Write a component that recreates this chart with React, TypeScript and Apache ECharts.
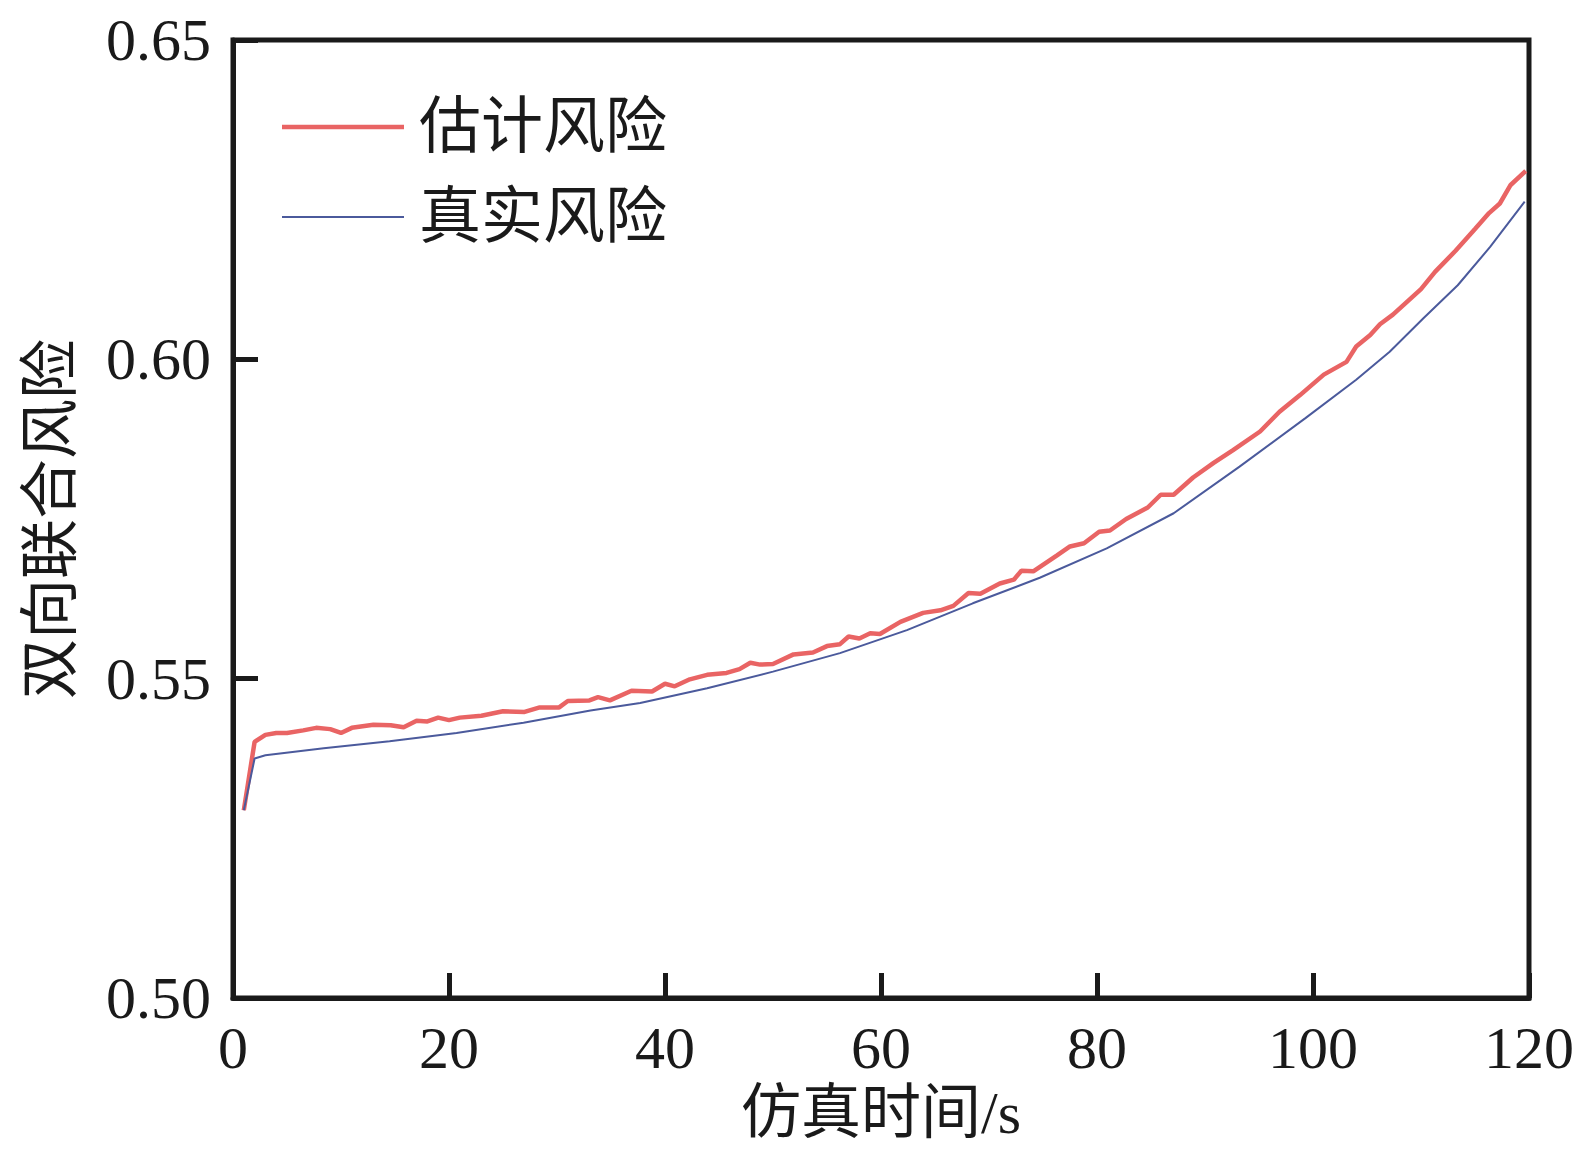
import React, { useEffect, useRef } from "react";
import * as echarts from "echarts";

const seriesNames = ["估计风险", "真实风险"];

// [time (s), risk]
const estimatedRisk: [number, number][] = [
  [1, 0.5294], [2, 0.5401], [3, 0.5412], [4, 0.5415], [5, 0.5415], [6.5, 0.5419],
  [7.7, 0.5423], [9, 0.5421], [10, 0.5415], [11, 0.5423], [13, 0.5428], [14.6, 0.5427],
  [15.8, 0.5424], [17, 0.5434], [18, 0.5433], [19, 0.5439], [20, 0.5435], [21, 0.5439],
  [23, 0.5442], [25, 0.5449], [27, 0.5448], [28.4, 0.5455], [30.2, 0.5455], [31, 0.5465],
  [33, 0.5466], [33.8, 0.5471], [34.9, 0.5466], [36.9, 0.5481], [38.8, 0.548], [40, 0.5492],
  [40.9, 0.5488], [42.3, 0.5499], [43.9, 0.5506], [45.7, 0.5509], [46.9, 0.5515], [47.9, 0.5525],
  [48.8, 0.5522], [50, 0.5523], [51.9, 0.5538], [53.7, 0.5541], [55, 0.5551], [56.2, 0.5554],
  [57, 0.5566], [58, 0.5563], [59, 0.5571], [59.9, 0.557], [61.8, 0.5589], [63.9, 0.5603],
  [65.5, 0.5607], [66.7, 0.5614], [68.1, 0.5634], [69.2, 0.5633], [71, 0.5649], [72.3, 0.5655],
  [73, 0.5669], [74.1, 0.5668], [76.3, 0.5693], [77.5, 0.5707], [78.8, 0.5712], [80.2, 0.573],
  [81.2, 0.5732], [82.7, 0.575], [84.7, 0.5768], [85.9, 0.5788], [87.1, 0.5788], [88.9, 0.5815],
  [90.8, 0.5838], [92.6, 0.5858], [95.1, 0.5887], [96.9, 0.5918], [98.8, 0.5944], [101, 0.5976],
  [103.1, 0.5996], [104, 0.602], [105.3, 0.6038], [106.2, 0.6055], [107.4, 0.607], [110, 0.611],
  [111.3, 0.6137], [113.2, 0.617], [115, 0.6204], [116.3, 0.6229], [117.3, 0.6244], [118.3, 0.6273],
  [119.7, 0.6295],
];

const trueRisk: [number, number][] = [
  [1, 0.5294], [2, 0.5375], [3, 0.538], [8.4, 0.5391], [14.5, 0.5402], [20.7, 0.5415],
  [26.9, 0.5431], [33.1, 0.545], [37.7, 0.5462], [43.9, 0.5485], [50, 0.5511], [56.2, 0.554],
  [62.4, 0.5576], [68.5, 0.5618], [74.7, 0.5658], [80.9, 0.5704], [87.1, 0.5759], [93.2, 0.5832],
  [99.3, 0.5908], [104, 0.5968], [107.1, 0.6012], [110.2, 0.6064], [113.4, 0.6116], [116.4, 0.6176],
  [119.6, 0.6247],
];

const xTicks = { min: 0, max: 120, interval: 20 };
const yTicks = { min: 0.5, max: 0.65, interval: 0.05 };

const FONT = "'Liberation Serif', 'Noto Sans CJK SC', serif";
const INK = "#1a1a1a";
const RED = "#e96464";
const BLUE = "#4b5a9c";

export default function App() {
  const ref = useRef<HTMLDivElement>(null);
  useEffect(() => {
    if (!ref.current) return;
    const chart = echarts.init(ref.current, undefined, { renderer: "svg" });
    chart.setOption({
      animation: false,
      backgroundColor: "#ffffff",
      textStyle: { fontFamily: FONT },
      grid: {
        left: 233,
        right: 67,
        top: 40,
        bottom: 165,
        show: true,
        borderColor: INK,
        borderWidth: 5,
        containLabel: false,
      },
      legend: {
        orient: "vertical",
        left: 277,
        top: 91,
        itemWidth: 122,
        itemHeight: 20,
        itemGap: 28,
        textStyle: {
          fontFamily: FONT,
          fontSize: 62,
          lineHeight: 62,
          color: INK,
          padding: [0, 0, 0, 10],
        },
        data: [
          {
            name: seriesNames[0],
            icon: "path://M0,0 M122,20 M0,7.7 L122,7.7 L122,12.3 L0,12.3 Z",
            itemStyle: { color: RED },
          },
          {
            name: seriesNames[1],
            icon: "path://M0,0 M122,20 M0,9 L122,9 L122,11 L0,11 Z",
            itemStyle: { color: BLUE },
          },
        ],
      },
      xAxis: {
        type: "value",
        min: xTicks.min,
        max: xTicks.max,
        interval: xTicks.interval,
        name: "仿真时间/s",
        nameLocation: "middle",
        nameGap: 84,
        nameTextStyle: { fontFamily: FONT, fontSize: 60, color: INK },
        axisLine: { show: true, lineStyle: { color: INK, width: 5 } },
        axisTick: { show: true, inside: true, length: 25, lineStyle: { color: INK, width: 5 } },
        axisLabel: { fontFamily: FONT, fontSize: 60, color: INK, margin: 20 },
        splitLine: { show: false },
      },
      yAxis: {
        type: "value",
        min: yTicks.min,
        max: yTicks.max,
        interval: yTicks.interval,
        name: "双向联合风险",
        nameLocation: "middle",
        nameRotate: 90,
        nameGap: 152,
        nameTextStyle: { fontFamily: FONT, fontSize: 60, color: INK },
        axisLine: { show: true, lineStyle: { color: INK, width: 5 } },
        axisTick: { show: true, inside: true, length: 25, lineStyle: { color: INK, width: 5 } },
        axisLabel: {
          fontFamily: FONT,
          fontSize: 60,
          color: INK,
          margin: 22,
          formatter: (v: number) => v.toFixed(2),
        },
        splitLine: { show: false },
      },
      series: [
        {
          name: seriesNames[0],
          type: "line",
          data: estimatedRisk,
          symbol: "none",
          lineStyle: { color: RED, width: 4.5 },
          itemStyle: { color: RED },
          z: 2,
        },
        {
          name: seriesNames[1],
          type: "line",
          data: trueRisk,
          symbol: "none",
          lineStyle: { color: BLUE, width: 2 },
          itemStyle: { color: BLUE },
          z: 3,
        },
      ],
    });
    return () => chart.dispose();
  }, []);
  return (
    <div
      ref={ref}
      style={{ position: "absolute", left: 0, top: 0, width: 1596, height: 1163, background: "#fff" }}
    />
  );
}
